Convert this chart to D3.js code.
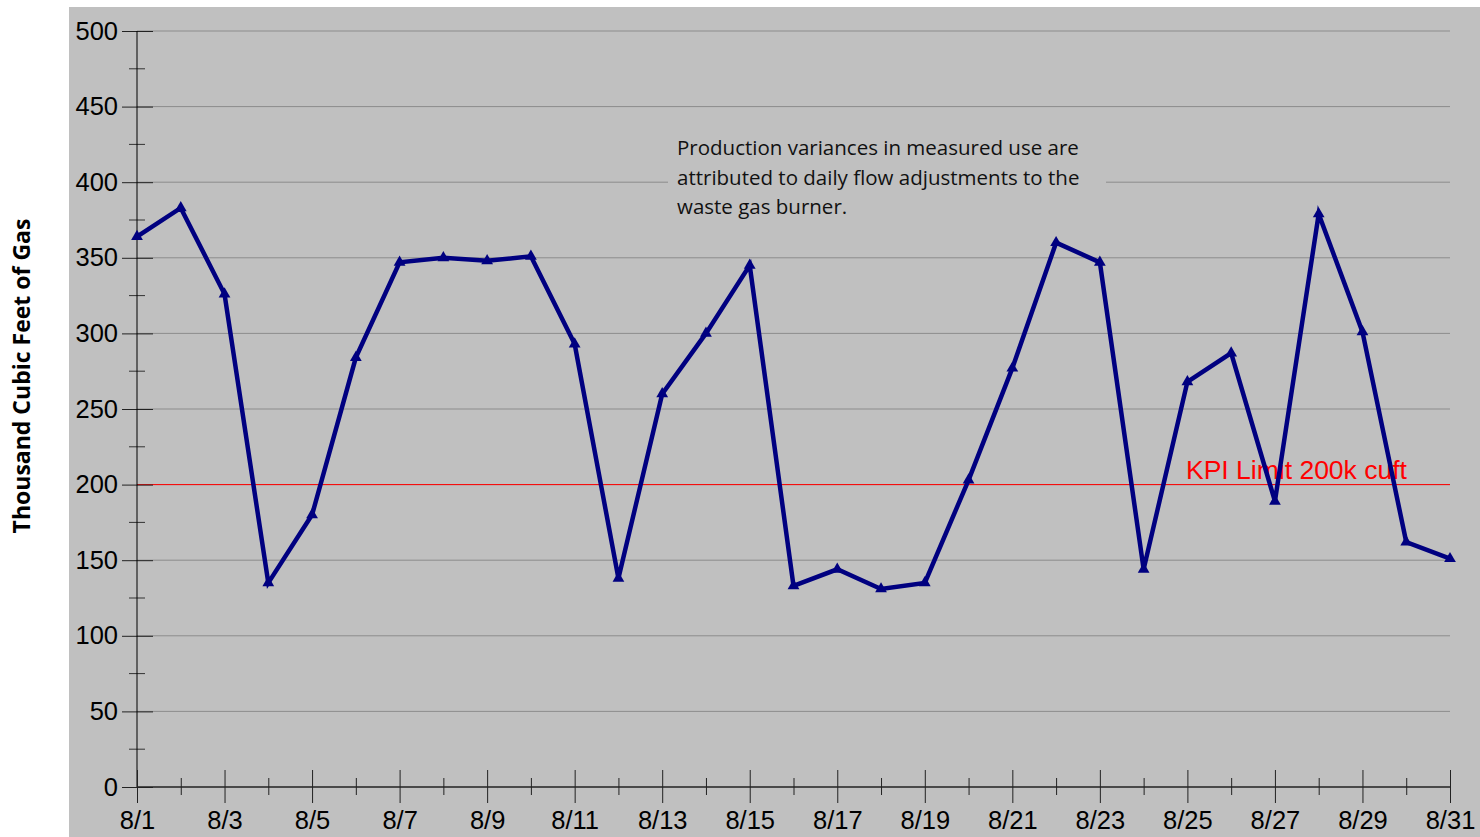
<!DOCTYPE html>
<html lang="en">
<head>
<meta charset="UTF-8">
<title>Gas use</title>
<script src="https://d3js.org/d3.v7.min.js"></script>
<style>
	body { margin: 0; background: #fff; }
	text { font-family: "Liberation Sans", Arial, sans-serif; }
</style>
</head>
<body>
<svg id="svg"></svg>
<script>
var days = ["8/1","8/2","8/3","8/4","8/5","8/6","8/7","8/8","8/9","8/10","8/11","8/12","8/13","8/14","8/15","8/16",
	"8/17","8/18","8/19","8/20","8/21","8/22","8/23","8/24","8/25","8/26","8/27","8/28","8/29","8/30","8/31"];
var gasUse = [364,383,326,135,180,284,347,350,348,351,293,138,260,300,345,133,
	144,131,135,203,277,360,347,144,268,287,189,379,301,162,151];
var kpiLimit = 200;
var yTicks = [0,50,100,150,200,250,300,350,400,450,500];
var note = ["Production variances in measured use are", "attributed to daily flow adjustments to the", "waste gas burner."];

var W = 1480, H = 837;
var svg = d3.select("#svg").attr("width", W).attr("height", H);

var x = d3.scalePoint().domain(days).range([137, 1450]);
var y = d3.scaleLinear().domain([0, 500]).range([787, 31]);

// plot background
svg.append("rect").attr("x", 69).attr("y", 7).attr("width", W - 69).attr("height", H - 7).attr("fill", "#c0c0c0");

// gridlines
svg.append("g").selectAll("line").data(yTicks.slice(1)).enter().append("line")
	.attr("x1", 137).attr("x2", 1450)
	.attr("y1", function(d) { return y(d); }).attr("y2", function(d) { return y(d); })
	.attr("stroke", "#8c8c8c").attr("stroke-width", 1);

// annotation box
var ng = svg.append("g");
ng.append("rect").attr("x", 668).attr("y", 133).attr("width", 438).attr("height", 88).attr("fill", "#c0c0c0");
ng.selectAll("text").data(note).enter().append("text")
	.attr("x", 677).attr("y", function(d, i) { return 155 + i * 29.5; })
	.style("font-family", "'Open Sans', sans-serif")
	.style("font-size", "20.5px").attr("fill", "#111")
	.text(function(d) { return d; });

// KPI line
svg.append("line").attr("x1", 137).attr("x2", 1450)
	.attr("y1", y(kpiLimit)).attr("y2", y(kpiLimit))
	.attr("stroke", "#ff0000").attr("stroke-width", 1);
svg.append("text").attr("x", 1186).attr("y", 479)
	.attr("fill", "#ff0000").style("font-size", "26.5px").text("KPI Limit 200k cuft");

// y axis
var yAxis = svg.append("g").attr("transform", "translate(137,0)")
	.call(d3.axisLeft(y).tickValues(yTicks).tickSize(15).tickPadding(4).tickFormat(d3.format("d")));
yAxis.select(".domain").remove();
yAxis.selectAll(".tick line").attr("x2", 16).attr("x1", -15).attr("stroke", "#222");
yAxis.selectAll(".tick text").style("font-size", "25.5px").style("font-family", "'Liberation Sans', Arial, sans-serif").attr("fill", "#000");
svg.append("g").selectAll("line").data(d3.range(25, 500, 50)).enter().append("line")
	.attr("x1", 129).attr("x2", 145)
	.attr("y1", function(d) { return y(d); }).attr("y2", function(d) { return y(d); })
	.attr("stroke", "#333");
svg.append("line").attr("x1", 137).attr("x2", 137).attr("y1", y(500)).attr("y2", y(0)).attr("stroke", "#000");

// x axis
var xAxis = svg.append("g").attr("transform", "translate(0," + y(0) + ")")
	.call(d3.axisBottom(x).tickSize(16).tickPadding(8)
		.tickFormat(function(d, i) { return i % 2 === 0 ? d : ""; }));
xAxis.select(".domain").remove();
xAxis.selectAll(".tick line")
	.attr("y1", function(d, i) { return i % 2 === 0 ? -17 : -9; })
	.attr("y2", function(d, i) { return i % 2 === 0 ? 16 : 8; })
	.attr("stroke", "#222");
xAxis.selectAll(".tick text").style("font-size", "25.5px").style("font-family", "'Liberation Sans', Arial, sans-serif").attr("fill", "#000");
svg.append("line").attr("x1", 137).attr("x2", 1450).attr("y1", y(0)).attr("y2", y(0)).attr("stroke", "#222").attr("stroke-width", 1.5);

// axis title
svg.append("text").attr("transform", "translate(30,376) rotate(-90)")
	.attr("text-anchor", "middle").style("font-family", "'Open Sans', sans-serif")
	.style("font-size", "23px").style("font-weight", "bold").text("Thousand Cubic Feet of Gas");

// series
var line = d3.line().x(function(d, i) { return x(days[i]); }).y(function(d) { return y(d); });
svg.append("path").datum(gasUse).attr("d", line)
	.attr("fill", "none").attr("stroke", "#000080").attr("stroke-width", 4.5).attr("stroke-linejoin", "miter");
svg.append("g").selectAll("path").data(gasUse).enter().append("path")
	.attr("d", d3.symbol().type(d3.symbolTriangle).size(60))
	.attr("transform", function(d, i) { return "translate(" + x(days[i]) + "," + y(d) + ")"; })
	.attr("fill", "#000080");
</script>
</body>
</html>
